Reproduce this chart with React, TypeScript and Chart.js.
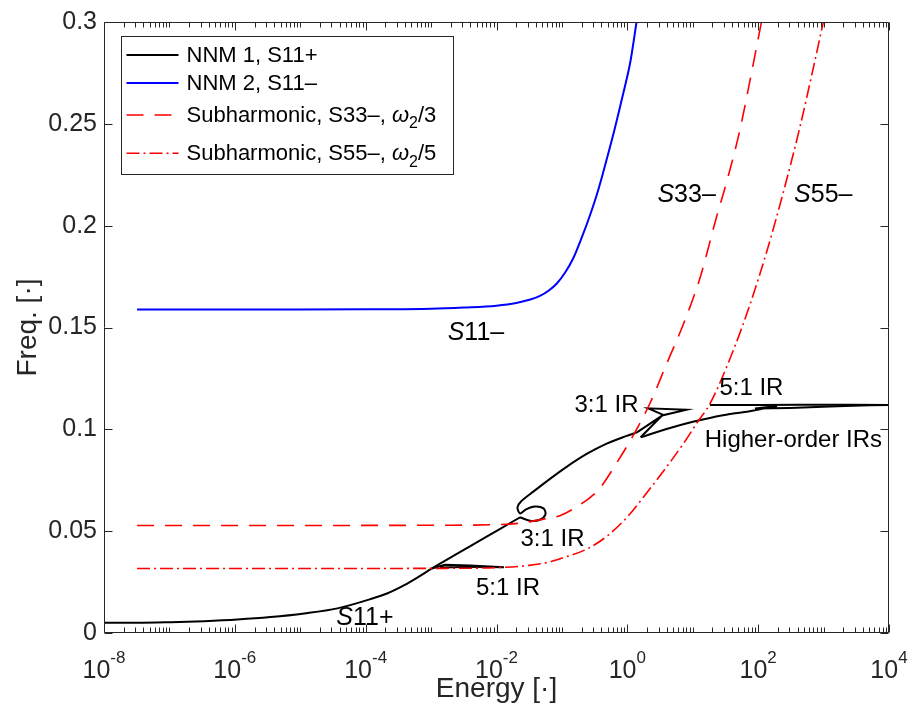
import { useEffect, useRef } from "react";
import { Chart, registerables } from "chart.js";

Chart.register(...registerables);

const FONT = '"Liberation Sans", Arial, Helvetica, sans-serif';
const AXIS_COLOR = "#262626";

// ---- Frequency–energy data (energy [·], frequency [·]) ----

// NNM 1, S11+ : low-energy backbone up to the 3:1 loop
const nnm1LowE = [1e-8, 3.2e-8, 1.05e-7, 3.4e-7, 1.1e-6, 3.5e-6, 1.15e-5, 3.7e-5, 1.2e-4, 2.12e-4, 3.9e-4, 6.31e-4, 1.03e-3, 1.55e-3, 3.98e-3, 1.12e-2, 2.29e-2];
const nnm1LowF = [0.005, 0.005, 0.0053, 0.0058, 0.0066, 0.0078, 0.0096, 0.0121, 0.0167, 0.0194, 0.0235, 0.0274, 0.0317, 0.035, 0.0427, 0.051, 0.0568];

// NNM 1 : 5:1 tongue at low energy
const nnm1Tongue51E = [1.03e-3, 1.63e-3, 3.94e-3, 1.3e-2, 4.69e-3, 1.37e-3];
const nnm1Tongue51F = [0.0317, 0.0335, 0.0331, 0.0323, 0.0325, 0.0321];

// NNM 1 : 3:1 loop and the arc above it
const nnm1ArcE = [2.29e-2, 3.25e-2, 4.62e-2, 5.61e-2, 5.23e-2, 3.87e-2, 2.82e-2, 2.29e-2, 2.09e-2, 2.37e-2, 3.65e-2, 6.57e-2, 0.118, 0.239, 0.483, 0.977, 1.4];
const nnm1ArcF = [0.0568, 0.0551, 0.0556, 0.0583, 0.0612, 0.0621, 0.0607, 0.0587, 0.0617, 0.0646, 0.0694, 0.0757, 0.0816, 0.0879, 0.093, 0.0968, 0.0985];

// NNM 1 : 3:1 tongue at higher energy
const nnm1Tongue31E = [1.4, 3.54, 2.09, 8.05, 3.39, 1.6];
const nnm1Tongue31F = [0.0985, 0.1071, 0.1103, 0.1096, 0.1068, 0.0961];

// NNM 1 : backbone beyond the 3:1 tongue
const nnm1HighE = [1.6, 3.98, 9.06, 18.3, 37.1, 67.5];
const nnm1HighF = [0.0961, 0.1002, 0.1034, 0.1056, 0.1075, 0.1086];

// NNM 1 : higher-order IRs to the end of the range
const nnm1EndE = [67.5, 194, 89.3, 306, 977, 2120, 5120, 1e4];
const nnm1EndF = [0.1086, 0.1114, 0.1102, 0.1105, 0.1111, 0.1115, 0.1118, 0.1119];

// NNM 1 : 5:1 IR branch at high energy
const nnm1Tongue51HiE = [1e4, 2530, 436, 107, 18.3];
const nnm1Tongue51HiF = [0.112, 0.1121, 0.1121, 0.112, 0.112];

// NNM 2, S11-
const nnm2E = [3.2e-8, 1e-6, 1e-5, 1e-4, 1e-3, 3.16e-3, 0.01, 0.02, 0.0316, 0.0462, 0.063, 0.083, 0.112, 0.149, 0.2, 0.268, 0.363, 0.483, 0.646, 0.867, 1.12, 1.39];
const nnm2F = [0.1588, 0.1588, 0.1588, 0.1589, 0.1592, 0.1598, 0.1607, 0.162, 0.1636, 0.1655, 0.1682, 0.1715, 0.177, 0.184, 0.194, 0.205, 0.218, 0.2325, 0.248, 0.265, 0.281, 0.3005];

// Subharmonic S33-, omega2/3
const s33E = [3.2e-8, 1e-5, 1e-3, 1e-2, 2.5e-2, 5.9e-2, 9.3e-2, 0.189, 0.269, 0.382, 0.687, 1.23, 2.22, 3.99, 7.18, 12.9, 23.2, 33.0, 52.7, 75.0, 113];
const s33F = [0.0528, 0.0528, 0.0529, 0.0532, 0.0541, 0.0563, 0.0576, 0.063, 0.0665, 0.0712, 0.0835, 0.097, 0.1128, 0.1322, 0.1516, 0.1743, 0.2045, 0.2215, 0.2471, 0.2713, 0.3005];

// Subharmonic S55-, omega2/5
const s55E = [3.2e-8, 1e-4, 3.16e-3, 0.01, 0.0316, 0.063, 0.105, 0.24, 0.5, 1, 2, 3.98, 7.94, 11.5, 18.3, 41.6, 75, 135, 242, 437, 697, 1000];
const s55F = [0.0317, 0.0317, 0.0318, 0.0321, 0.0332, 0.0348, 0.037, 0.0412, 0.0478, 0.057, 0.069, 0.0815, 0.095, 0.103, 0.1125, 0.1387, 0.1613, 0.1872, 0.2163, 0.2487, 0.2775, 0.3005];

// Axis ticks
const Y_TICKS = [0, 0.05, 0.1, 0.15, 0.2, 0.25, 0.3];
const X_LABEL_EXPS = [-8, -6, -4, -2, 0, 2, 4];
const X_MIN_EXP = -8;
const X_MAX_EXP = 4;

// ---- styles ----
type Seg = { t: string; italic?: boolean; sub?: boolean };
type LineStyle = { color: string; width: number; dash: number[] };

const STYLE_NNM1: LineStyle = { color: "#000000", width: 2, dash: [] };
const STYLE_NNM2: LineStyle = { color: "#0000ff", width: 2, dash: [] };
const STYLE_S33: LineStyle = { color: "#ff0000", width: 1.6, dash: [17, 11] };
const STYLE_S55: LineStyle = { color: "#ff0000", width: 1.6, dash: [13, 4, 2, 4] };

const LEGEND_ITEMS: { style: LineStyle; segs: Seg[] }[] = [
  { style: STYLE_NNM1, segs: [{ t: "NNM 1, S11+" }] },
  { style: STYLE_NNM2, segs: [{ t: "NNM 2, S11\u2013" }] },
  { style: STYLE_S33, segs: [{ t: "Subharmonic, S33\u2013, " }, { t: "\u03c9", italic: true }, { t: "2", sub: true }, { t: "/3" }] },
  { style: STYLE_S55, segs: [{ t: "Subharmonic, S55\u2013, " }, { t: "\u03c9", italic: true }, { t: "2", sub: true }, { t: "/5" }] },
];

// text labels placed at (energy, frequency)
const ANNOTATIONS: { e: number; f: number; size: number; segs: Seg[] }[] = [
  { e: 4.85e-3, f: 0.1481, size: 25, segs: [{ t: "S", italic: true }, { t: "11\u2013" }] },
  { e: 8.05, f: 0.216, size: 25, segs: [{ t: "S", italic: true }, { t: "33\u2013" }] },
  { e: 989, f: 0.216, size: 25, segs: [{ t: "S", italic: true }, { t: "55\u2013" }] },
  { e: 9.75e-5, f: 0.00825, size: 25, segs: [{ t: "S", italic: true }, { t: "11+" }] },
  { e: 0.48, f: 0.1129, size: 24, segs: [{ t: "3:1 IR" }] },
  { e: 0.0718, f: 0.0471, size: 24, segs: [{ t: "3:1 IR" }] },
  { e: 0.015, f: 0.0228, size: 24, segs: [{ t: "5:1 IR" }] },
  { e: 78.9, f: 0.1211, size: 24, segs: [{ t: "5:1 IR" }] },
  { e: 346, f: 0.0956, size: 24, segs: [{ t: "Higher-order IRs" }] },
];

const MAJOR_TICK = 8;
const MINOR_TICK = 5;
const TICK_FONT = 25;
const SUP_FONT = 17;
const TITLE_FONT = 28;

function pts(e: number[], f: number[]) {
  return e.map((x, i) => ({ x, y: f[i] }));
}

function segFont(s: Seg, size: number) {
  const px = s.sub ? Math.round(size * 0.72) : size;
  return `${s.italic ? "italic " : ""}${px}px ${FONT}`;
}

// draws mixed-style text; cy is the visual centre of capitals
function drawRich(ctx: CanvasRenderingContext2D, segs: Seg[], x: number, cy: number, size: number, align: "left" | "center") {
  let total = 0;
  const widths = segs.map((s) => {
    ctx.font = segFont(s, size);
    const w = ctx.measureText(s.t).width;
    total += w;
    return w;
  });
  let cx = align === "center" ? x - total / 2 : x;
  const base = cy + size * 0.358;
  ctx.textAlign = "left";
  ctx.textBaseline = "alphabetic";
  segs.forEach((s, i) => {
    ctx.font = segFont(s, size);
    ctx.fillText(s.t, cx, s.sub ? base + size * 0.3 : base);
    cx += widths[i];
  });
}

const framePlugin = {
  id: "matlabFrame",
  afterDraw(chart: any) {
    const { ctx, chartArea: a, scales } = chart;
    const xs = scales.x;
    const ys = scales.y;
    const L = Math.round(a.left) + 0.5;
    const R = Math.round(a.right) - 0.5;
    const T = Math.round(a.top) + 0.5;
    const B = Math.round(a.bottom) - 0.5;
    ctx.save();

    // axes box and inward ticks
    ctx.strokeStyle = AXIS_COLOR;
    ctx.lineWidth = 1;
    ctx.setLineDash([]);
    ctx.beginPath();
    ctx.rect(L, T, R - L, B - T);
    for (const v of Y_TICKS) {
      const py = Math.round(ys.getPixelForValue(v)) + 0.5;
      ctx.moveTo(L, py);
      ctx.lineTo(L + MAJOR_TICK, py);
      ctx.moveTo(R, py);
      ctx.lineTo(R - MAJOR_TICK, py);
    }
    for (let e = X_MIN_EXP; e <= X_MAX_EXP; e++) {
      for (let m = 1; m <= 9; m++) {
        if (e === X_MAX_EXP && m > 1) break;
        const v = m * Math.pow(10, e);
        const px = Math.round(xs.getPixelForValue(v)) + 0.5;
        const len = m === 1 && X_LABEL_EXPS.includes(e) ? MAJOR_TICK : MINOR_TICK;
        ctx.moveTo(px, B);
        ctx.lineTo(px, B - len);
        ctx.moveTo(px, T);
        ctx.lineTo(px, T + len);
      }
    }
    ctx.stroke();

    // x tick labels as powers of ten
    ctx.fillStyle = AXIS_COLOR;
    for (const e of X_LABEL_EXPS) {
      const px = xs.getPixelForValue(Math.pow(10, e));
      ctx.font = `${TICK_FONT}px ${FONT}`;
      const w1 = ctx.measureText("10").width;
      ctx.font = `${SUP_FONT}px ${FONT}`;
      const sup = String(e);
      const w2 = ctx.measureText(sup).width;
      const x0 = px - (w1 + w2) / 2;
      ctx.textAlign = "left";
      ctx.textBaseline = "alphabetic";
      ctx.font = `${TICK_FONT}px ${FONT}`;
      ctx.fillText("10", x0, a.bottom + 45);
      ctx.font = `${SUP_FONT}px ${FONT}`;
      ctx.fillText(sup, x0 + w1, a.bottom + 30);
    }

    // annotations
    ctx.fillStyle = "#000000";
    for (const an of ANNOTATIONS) {
      const px = xs.getPixelForValue(an.e);
      const py = ys.getPixelForValue(an.f);
      drawRich(ctx, an.segs, px, py, an.size, "center");
    }

    // legend
    const bx = Math.round(a.left + 17) + 0.5;
    const by = Math.round(a.top + 14) + 0.5;
    const bw = 332;
    const bh = 138;
    ctx.fillStyle = "#ffffff";
    ctx.fillRect(bx, by, bw, bh);
    ctx.strokeStyle = AXIS_COLOR;
    ctx.lineWidth = 1;
    ctx.strokeRect(bx, by, bw, bh);
    const rowText = [17.5, 45.5, 77.5, 115.8];
    LEGEND_ITEMS.forEach((item, i) => {
      const ly = by + rowText[i] + 1;
      ctx.strokeStyle = item.style.color;
      ctx.lineWidth = item.style.width;
      ctx.setLineDash(item.style.dash);
      ctx.beginPath();
      ctx.moveTo(bx + 5, ly);
      ctx.lineTo(bx + 57, ly);
      ctx.stroke();
      ctx.setLineDash([]);
      ctx.fillStyle = "#000000";
      drawRich(ctx, item.segs, bx + 65, by + rowText[i], 22, "left");
    });

    ctx.restore();
  },
};

function lineSet(data: { x: number; y: number }[], style: LineStyle, smooth: "monotone" | "curve" | "none", order: number) {
  return {
    data,
    showLine: true,
    borderColor: style.color,
    borderWidth: style.width,
    borderDash: style.dash,
    pointRadius: 0,
    pointHoverRadius: 0,
    tension: smooth === "none" ? 0 : 0.3,
    cubicInterpolationMode: smooth === "monotone" ? "monotone" : "default",
    order,
    fill: false,
  };
}

export default function App() {
  const canvasRef = useRef<HTMLCanvasElement | null>(null);

  useEffect(() => {
    document.body.style.margin = "0";
    document.body.style.background = "#ffffff";
    const canvas = canvasRef.current;
    if (!canvas) return;

    const datasets = [
      lineSet(pts(s55E, s55F), STYLE_S55, "monotone", 0),
      lineSet(pts(s33E, s33F), STYLE_S33, "monotone", 0),
      lineSet(pts(nnm2E, nnm2F), STYLE_NNM2, "monotone", 1),
      lineSet(pts(nnm1LowE, nnm1LowF), STYLE_NNM1, "monotone", 2),
      lineSet(pts(nnm1Tongue51E, nnm1Tongue51F), STYLE_NNM1, "none", 2),
      lineSet(pts(nnm1ArcE, nnm1ArcF), STYLE_NNM1, "curve", 2),
      lineSet(pts(nnm1Tongue31E, nnm1Tongue31F), STYLE_NNM1, "none", 2),
      lineSet(pts(nnm1HighE, nnm1HighF), STYLE_NNM1, "monotone", 2),
      lineSet(pts(nnm1EndE, nnm1EndF), STYLE_NNM1, "none", 2),
      lineSet(pts(nnm1Tongue51HiE, nnm1Tongue51HiF), STYLE_NNM1, "none", 2),
    ];

    const chart = new Chart(canvas, {
      type: "scatter",
      data: { datasets: datasets as any },
      options: {
        responsive: false,
        animation: false,
        devicePixelRatio: 1,
        layout: { padding: { left: 0, right: 29, top: 15, bottom: 0 } },
        plugins: { legend: { display: false }, tooltip: { enabled: false } },
        scales: {
          x: {
            type: "logarithmic",
            min: 1e-8,
            max: 1e4,
            ticks: { display: false },
            grid: { display: false, drawTicks: false },
            border: { display: false },
            title: {
              display: true,
              text: "Energy [\u00b7]",
              color: AXIS_COLOR,
              font: { family: FONT, size: TITLE_FONT },
              padding: { top: 0, bottom: 11 },
            },
            afterFit: (s: any) => {
              s.height = 84;
            },
          },
          y: {
            type: "linear",
            min: 0,
            max: 0.3,
            afterBuildTicks: (s: any) => {
              s.ticks = Y_TICKS.map((v) => ({ value: v }));
            },
            ticks: {
              color: AXIS_COLOR,
              font: { family: FONT, size: TICK_FONT },
              padding: 7,
              callback: (v: any) => String(Number(Number(v).toFixed(2))),
            },
            grid: { display: false, drawTicks: false },
            border: { display: false },
            title: {
              display: true,
              text: "Freq. [\u00b7]",
              color: AXIS_COLOR,
              font: { family: FONT, size: TITLE_FONT },
              padding: { top: 11, bottom: 0 },
            },
            afterFit: (s: any) => {
              s.width = 104;
            },
          },
        },
      } as any,
      plugins: [framePlugin],
    });

    return () => {
      chart.destroy();
    };
  }, []);

  return (
    <div style={{ width: 918, height: 717, background: "#ffffff" }}>
      <canvas ref={canvasRef} width={918} height={717} style={{ display: "block", width: 918, height: 717 }} />
    </div>
  );
}
